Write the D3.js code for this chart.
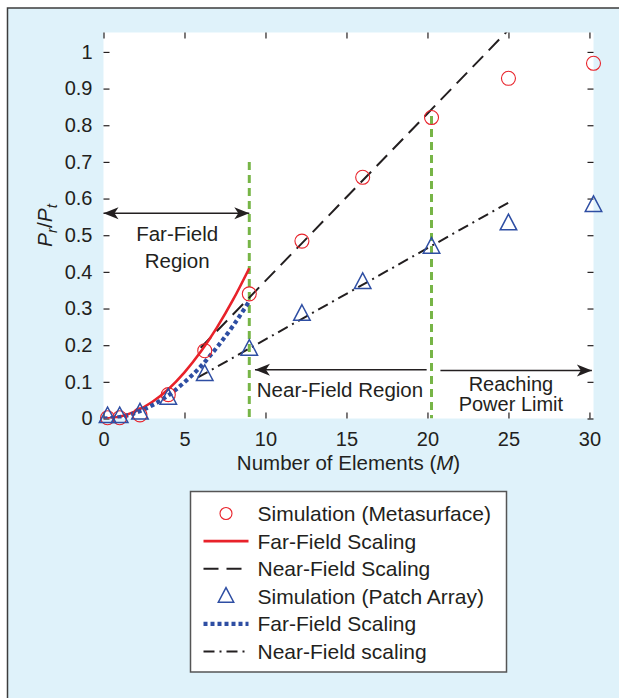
<!DOCTYPE html>
<html>
<head>
<meta charset="utf-8">
<script src="https://cdn.jsdelivr.net/npm/d3@7"></script>
<style>
  html, body { margin: 0; padding: 0; background: #fff; }
  svg { display: block; font-family: "Liberation Sans", Arial, Helvetica, sans-serif; }
</style>
</head>
<body>
<svg id="chart" width="619" height="698"></svg>
<script>
// Simulated points, x = number of elements M
const mValues = [0.25, 1, 2.25, 4, 6.25, 9, 12.25, 16, 20.25, 25, 30.25];
const simMetasurface = [0.002, 0.002, 0.01, 0.065, 0.185, 0.34, 0.484, 0.658, 0.821, 0.928, 0.969];
const simPatch = [0.006, 0.006, 0.016, 0.056, 0.121, 0.19, 0.285, 0.372, 0.468, 0.532, 0.582];

// Far-field scaling curves
const farM = [0, 1, 2, 3, 4, 5, 6, 7, 8, 9];
const farMetasurface = [0, 0.005, 0.02, 0.045, 0.08, 0.126, 0.182, 0.248, 0.324, 0.41];
const farPatch = [0, 0.004, 0.016, 0.036, 0.063, 0.099, 0.142, 0.194, 0.253, 0.32];

// Near-field scaling lines
const nearMetaM = [6, 25];
const nearMetasurface = [0.193, 1.06];
const nearPatchM = [5.83, 25];
const nearPatch = [0.112, 0.589];

// Region boundaries (green dashed)
const boundaryM = [9, 20.25];
const boundaryTop = [0.70, 0.825];

const xTicks = [0, 5, 10, 15, 20, 25, 30];
const yTicks = [0, 0.1, 0.2, 0.3, 0.4, 0.5, 0.6, 0.7, 0.8, 0.9, 1];

const legendItems = [
  { label: "Simulation (Metasurface)", type: "circle" },
  { label: "Far-Field Scaling", type: "red" },
  { label: "Near-Field Scaling", type: "dash" },
  { label: "Simulation (Patch Array)", type: "triangle" },
  { label: "Far-Field Scaling", type: "dots" },
  { label: "Near-Field scaling", type: "dashdot" }
];

const ink = "#231f20";
const red = "#e8222a";
const blue = "#2e4ea3";
const green = "#77b547";

const svg = d3.select("#chart");

// outer panel
svg.append("rect")
  .attr("x", 7.5).attr("y", 8)
  .attr("width", 700).attr("height", 800)
  .attr("fill", "#dff2fa")
  .attr("stroke", "#3c3c3c")
  .attr("stroke-width", 1.5);

const plot = { left: 103.5, right: 593.5, top: 32.5, bottom: 418.5 };

const x = d3.scaleLinear().domain([0, 30.25]).range([plot.left, plot.right]);
const y = d3.scaleLinear().domain([0, 1.053]).range([plot.bottom, plot.top]);

svg.append("rect")
  .attr("x", plot.left).attr("y", plot.top)
  .attr("width", plot.right - plot.left).attr("height", plot.bottom - plot.top)
  .attr("fill", "#fff");

svg.append("clipPath").attr("id", "clip")
  .append("rect")
  .attr("x", plot.left).attr("y", plot.top)
  .attr("width", plot.right - plot.left).attr("height", plot.bottom - plot.top);

const fmt = d => String(+d.toFixed(1));

// axes: ticks inside on all four sides
const axisStyle = g => {
  g.select(".domain").remove();
  g.selectAll("line").attr("stroke", ink).attr("stroke-width", 1.2);
  g.selectAll("text").attr("fill", ink).attr("font-size", 20);
};

svg.append("g")
  .attr("transform", `translate(0,${plot.bottom})`)
  .call(d3.axisBottom(x).tickValues(xTicks).tickFormat(fmt).tickSize(-6).tickSizeOuter(0).tickPadding(13))
  .call(axisStyle);

svg.append("g")
  .attr("transform", `translate(0,${plot.top})`)
  .call(d3.axisTop(x).tickValues(xTicks).tickFormat("").tickSize(-6).tickSizeOuter(0))
  .call(axisStyle);

svg.append("g")
  .attr("transform", `translate(${plot.left},0)`)
  .call(d3.axisLeft(y).tickValues(yTicks).tickFormat(fmt).tickSize(-6).tickSizeOuter(0).tickPadding(11))
  .call(axisStyle);

svg.append("g")
  .attr("transform", `translate(${plot.right},0)`)
  .call(d3.axisRight(y).tickValues(yTicks).tickFormat("").tickSize(-6).tickSizeOuter(0))
  .call(axisStyle);

// region boundaries
const g = svg.append("g").attr("clip-path", "url(#clip)");

g.selectAll(".boundary")
  .data(boundaryM)
  .join("line")
  .attr("x1", d => x(d)).attr("x2", d => x(d))
  .attr("y1", (d, i) => y(boundaryTop[i])).attr("y2", y(0))
  .attr("stroke", green).attr("stroke-width", 3)
  .attr("stroke-dasharray", "8,5");

const line = d3.line().x(d => x(d[0])).y(d => y(d[1]));
const curve = d3.line().x(d => x(d[0])).y(d => y(d[1])).curve(d3.curveMonotoneX);

g.append("path")
  .datum(nearMetaM.map((m, i) => [m, nearMetasurface[i]]))
  .attr("d", line)
  .attr("fill", "none").attr("stroke", ink).attr("stroke-width", 2)
  .attr("stroke-dasharray", "15,8");

g.append("path")
  .datum(nearPatchM.map((m, i) => [m, nearPatch[i]]))
  .attr("d", line)
  .attr("fill", "none").attr("stroke", ink).attr("stroke-width", 2)
  .attr("stroke-dasharray", "11,5,2,5");

g.append("path")
  .datum(farM.map((m, i) => [m, farMetasurface[i]]))
  .attr("d", curve)
  .attr("fill", "none").attr("stroke", red).attr("stroke-width", 2.6);

g.append("path")
  .datum(farM.map((m, i) => [m, farPatch[i]]))
  .attr("d", curve)
  .attr("fill", "none").attr("stroke", blue).attr("stroke-width", 4.2)
  .attr("stroke-dasharray", "4,3");

// simulation markers
const triangle = s => `M0,${-s * 0.62}L${s * 0.55},${s * 0.42}L${-s * 0.55},${s * 0.42}Z`;

svg.append("g").selectAll("circle")
  .data(mValues.map((m, i) => [m, simMetasurface[i]]))
  .join("circle")
  .attr("cx", d => x(d[0])).attr("cy", d => y(d[1]))
  .attr("r", 7)
  .attr("fill", "none").attr("stroke", red).attr("stroke-width", 1.1);

svg.append("g").selectAll("path")
  .data(mValues.map((m, i) => [m, simPatch[i]]))
  .join("path")
  .attr("transform", d => `translate(${x(d[0])},${y(d[1])})`)
  .attr("d", triangle(15))
  .attr("fill", "none").attr("stroke", blue).attr("stroke-width", 1.5);

// arrows
const defs = svg.append("defs");
defs.append("marker")
  .attr("id", "head")
  .attr("viewBox", "-16 -7 17 14")
  .attr("refX", 0).attr("refY", 0)
  .attr("markerUnits", "userSpaceOnUse")
  .attr("markerWidth", 17).attr("markerHeight", 14)
  .attr("orient", "auto-start-reverse")
  .append("path")
  .attr("d", "M0,0L-15,-6L-11,0L-15,6Z")
  .attr("fill", ink);

const arrow = (m0, m1, v, both) => svg.append("line")
  .attr("x1", x(m0)).attr("x2", x(m1))
  .attr("y1", y(v)).attr("y2", y(v))
  .attr("stroke", ink).attr("stroke-width", 1.5)
  .attr("marker-end", "url(#head)")
  .attr("marker-start", both ? "url(#head)" : null);

arrow(0, 9, 0.56, true);
arrow(9.35, 19.95, 0.133, false).attr("marker-end", null).attr("marker-start", "url(#head)");
arrow(20.8, 30.15, 0.131, false);

const label = (m, v, text, size) => svg.append("text")
  .attr("x", x(m)).attr("y", y(v))
  .attr("text-anchor", "middle")
  .attr("font-size", size || 20.5).attr("fill", ink)
  .text(text);

label(4.55, 0.485, "Far-Field");
label(4.55, 0.411, "Region");
label(14.6, 0.059, "Near-Field Region");
label(25.15, 0.076, "Reaching", 20);
label(25.15, 0.02, "Power Limit", 20);

// axis titles
const xTitle = svg.append("text")
  .attr("x", (plot.left + plot.right) / 2).attr("y", 470)
  .attr("text-anchor", "middle")
  .attr("font-size", 20.5).attr("fill", ink);
xTitle.append("tspan").text("Number of Elements (");
xTitle.append("tspan").attr("font-style", "italic").text("M");
xTitle.append("tspan").text(")");

const yTitle = svg.append("text")
  .attr("transform", `translate(52,${(plot.top + plot.bottom) / 2}) rotate(-90)`)
  .attr("text-anchor", "middle")
  .attr("font-size", 21).attr("fill", ink)
  .attr("font-style", "italic");
yTitle.append("tspan").text("P");
yTitle.append("tspan").attr("font-size", 15).attr("dy", 5).text("r");
yTitle.append("tspan").attr("dy", -5).attr("font-style", "normal").text("/");
yTitle.append("tspan").text("P");
yTitle.append("tspan").attr("font-size", 15).attr("dy", 5).text("t");

// legend
const legend = svg.append("g");
legend.append("rect")
  .attr("x", 190.5).attr("y", 491.5)
  .attr("width", 316).attr("height", 180.5)
  .attr("fill", "#fff")
  .attr("stroke", "#555").attr("stroke-width", 1.5);

const rowY = d3.scalePoint()
  .domain(d3.range(legendItems.length))
  .range([513.5, 651.5]);

const rows = legend.selectAll(".row")
  .data(legendItems)
  .join("g")
  .attr("transform", (d, i) => `translate(0,${rowY(i)})`);

rows.append("text")
  .attr("x", 257.5).attr("dy", "0.36em")
  .attr("font-size", 21).attr("fill", ink)
  .text(d => d.label);

rows.each(function (d) {
  const r = d3.select(this);
  if (d.type === "circle") {
    r.append("circle").attr("cx", 226).attr("r", 6)
      .attr("fill", "none").attr("stroke", red).attr("stroke-width", 1.1);
  } else if (d.type === "triangle") {
    r.append("path").attr("transform", "translate(226,0)").attr("d", triangle(14))
      .attr("fill", "none").attr("stroke", blue).attr("stroke-width", 1.5);
  } else {
    const styles = {
      red: { stroke: red, width: 2.6, dash: null },
      dash: { stroke: ink, width: 2, dash: "15,8" },
      dots: { stroke: blue, width: 4.2, dash: "4,3" },
      dashdot: { stroke: ink, width: 2, dash: "11,5,2,5" }
    }[d.type];
    r.append("line").attr("x1", 203.5).attr("x2", 248.5)
      .attr("stroke", styles.stroke).attr("stroke-width", styles.width)
      .attr("stroke-dasharray", styles.dash);
  }
});
</script>
</body>
</html>
